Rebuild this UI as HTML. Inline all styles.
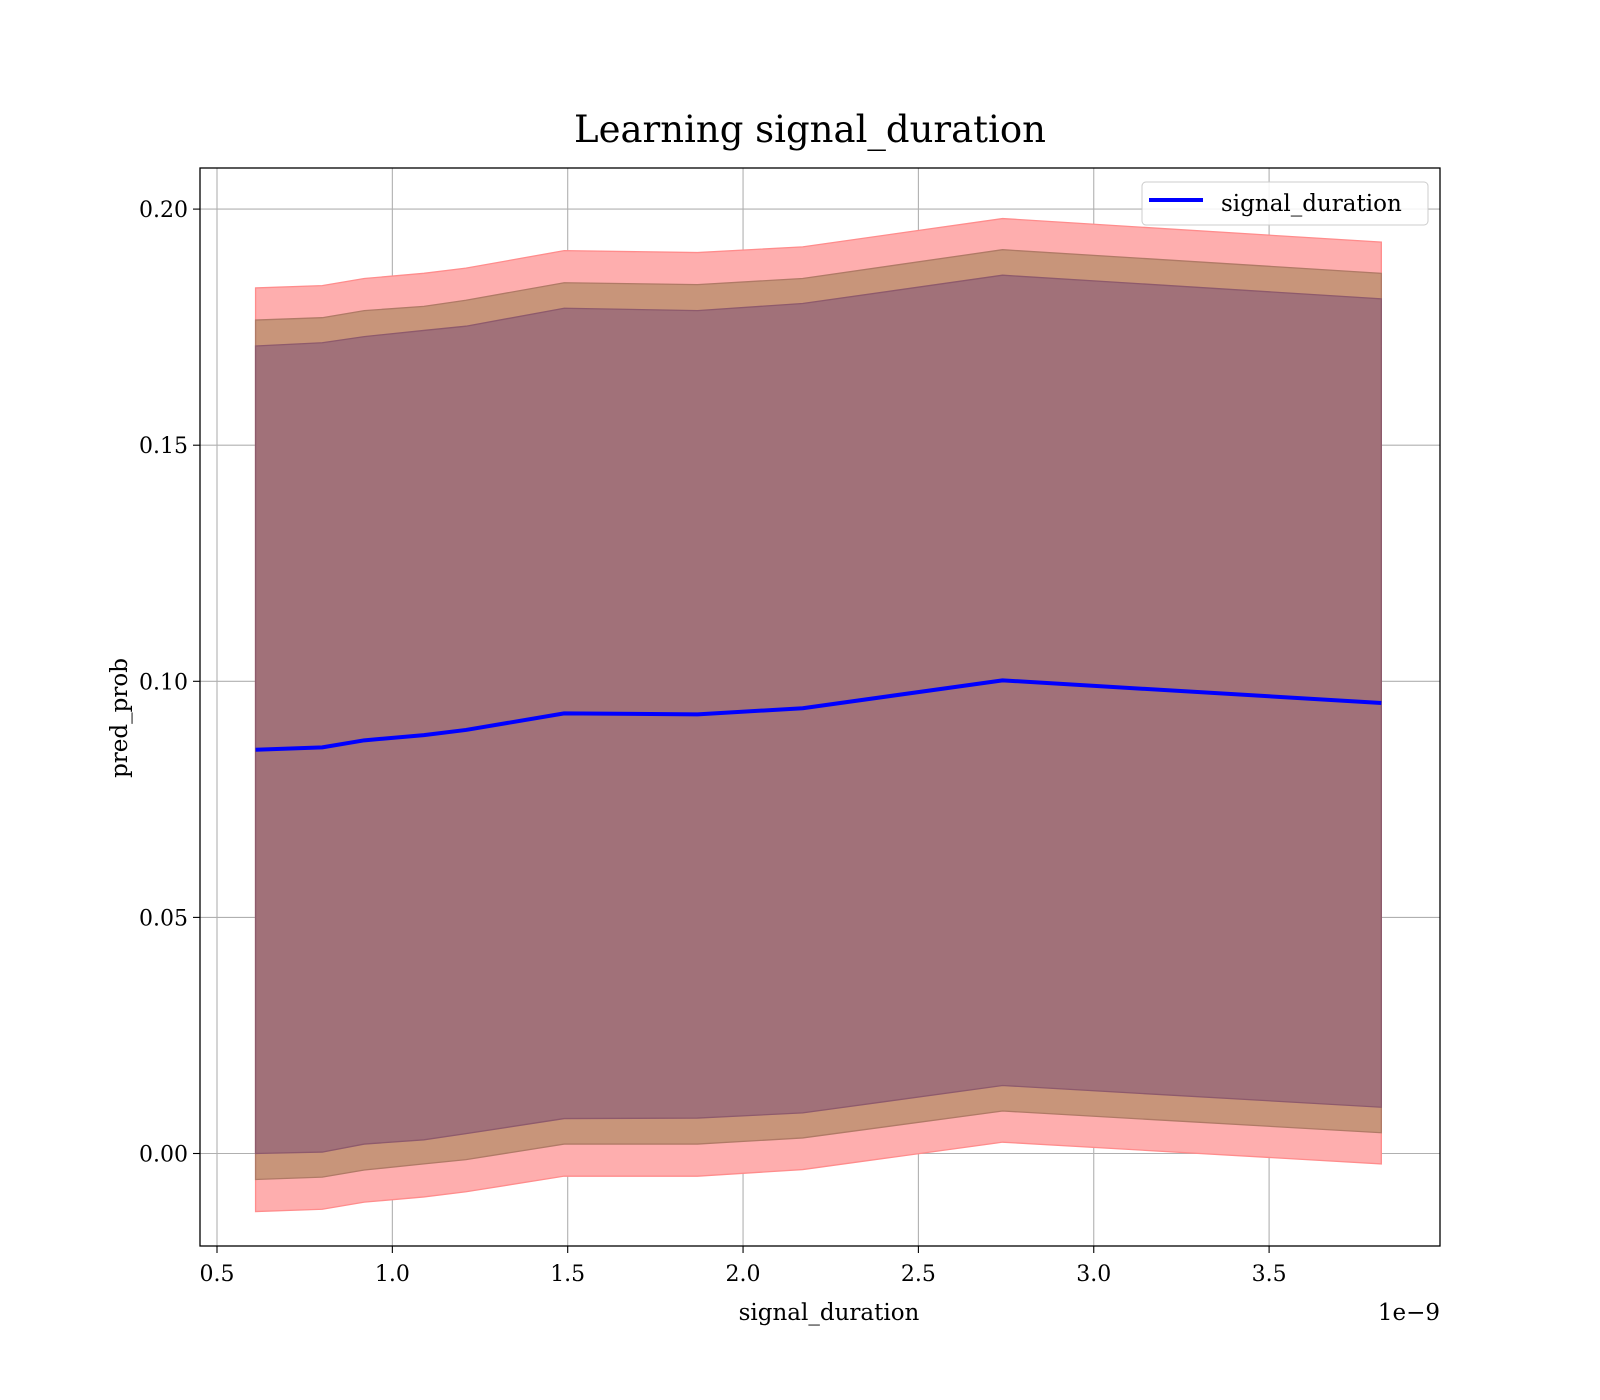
<!DOCTYPE html>
<html><head><meta charset="utf-8"><style>body{margin:0;background:#fff}svg{display:block;font-family:"DejaVu Serif","Liberation Serif",serif}</style></head>
<body>
<svg id="chart" width="1600" height="1400" viewBox="0 0 1600 1400">
<rect width="1600" height="1400" fill="#fff"/>
<text x="810" y="142" font-size="37" text-anchor="middle">Learning signal_duration</text>
<g id="grid"></g>
<g id="bands"></g>
<g id="line"></g>
<rect x="200" y="168" width="1240" height="1078" fill="none" stroke="#000" stroke-width="1.3"/>
<g id="ticks"></g>
<text x="829" y="1320" font-size="23" text-anchor="middle">signal_duration</text>
<text x="1440" y="1320" font-size="23" text-anchor="end">1e−9</text>
<text transform="translate(127,718) rotate(-90)" font-size="23" text-anchor="middle">pred_prob</text>
<g>
<rect x="1142" y="182" width="286" height="43" rx="4" fill="#fff" fill-opacity="0.85" stroke="#ccc"/>
<line x1="1149" y1="200" x2="1203" y2="200" stroke="#0000ff" stroke-width="4"/>
<text x="1221" y="211" font-size="23">signal_duration</text>
</g>
</svg>
<script>
const xs = [0.61, 0.80, 0.92, 1.09, 1.21, 1.49, 1.87, 2.17, 2.74, 3.82];
const means = [0.0855, 0.086, 0.0875, 0.0886, 0.0897, 0.0932, 0.093, 0.0943, 0.1002, 0.0954];
const std1 = [0.0855, 0.0857, 0.0855, 0.0857, 0.0855, 0.0858, 0.0855, 0.0857, 0.0858, 0.0856];
const std2 = [0.091, 0.091, 0.091, 0.0908, 0.091, 0.0912, 0.091, 0.091, 0.0912, 0.091];
const std3 = [0.0978, 0.0978, 0.0978, 0.0978, 0.0978, 0.098, 0.0978, 0.0977, 0.0978, 0.0976];
const xTicks = [0.5, 1.0, 1.5, 2.0, 2.5, 3.0, 3.5];
const yTicks = [0.00, 0.05, 0.10, 0.15, 0.20];
const NS = "http://www.w3.org/2000/svg";
function X(v){return 217 + (v - 0.5) * 350.7;}
function Y(v){return 1153.5 - v * 4722;}
function mk(tag, attrs, parent){const e=document.createElementNS(NS,tag);for(const k in attrs)e.setAttribute(k,attrs[k]);parent.appendChild(e);return e;}
const grid=document.getElementById('grid'), ticks=document.getElementById('ticks');
xTicks.forEach(t=>{
  const g=mk('line',{x1:X(t),x2:X(t),y1:168,y2:1246,stroke:'#b0b0b0','stroke-width':1.1},grid);
  
  
  const tk=mk('line',{x1:X(t),x2:X(t),y1:1246,y2:1253,stroke:'#000','stroke-width':1.1},ticks);
  
  
  const tx=mk('text',{x:X(t),y:1281,'font-size':22,'text-anchor':'middle'},ticks);
  tx.textContent=t.toFixed(1);
  
  
});
yTicks.forEach(t=>{
  const g=mk('line',{x1:200,x2:1440,y1:Y(t),y2:Y(t),stroke:'#b0b0b0','stroke-width':1.1},grid);
  
  
  const tk=mk('line',{x1:193,x2:200,y1:Y(t),y2:Y(t),stroke:'#000','stroke-width':1.1},ticks);
  
  
  const tx=mk('text',{x:188,y:Y(t)+8,'font-size':22,'text-anchor':'end'},ticks);
  tx.textContent=t.toFixed(2);
  
  
});
const bands=document.getElementById('bands');
function band(sd, fill, stroke, name){
  const up=xs.map((x,i)=>X(x)+','+Y(means[i]+sd[i]));
  const lo=xs.map((x,i)=>X(x)+','+Y(means[i]-sd[i])).reverse();
  const p=mk('polygon',{points:up.concat(lo).join(' '),fill:fill,stroke:stroke,'stroke-width':1.3},bands);
  
  
}
band(std3,'#feaeae','#ff8c8c','band-3sd');
band(std2,'#c8957a','#b07a66','band-2sd');
band(std1,'#a17179','#8e5a6c','band-1sd');
const ln=mk('polyline',{points:xs.map((x,i)=>X(x)+','+Y(means[i])).join(' '),fill:'none',stroke:'#0000ff','stroke-width':4,'stroke-linejoin':'round'},document.getElementById('line'));


</script>
</body></html>
